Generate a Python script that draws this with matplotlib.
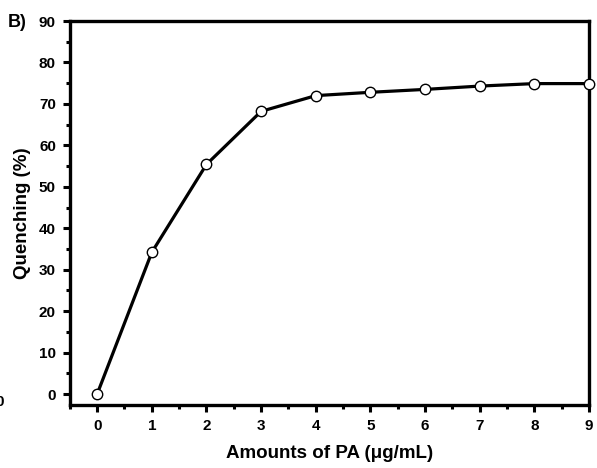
import matplotlib.pyplot as plt
from matplotlib.ticker import MultipleLocator

plt.rcParams['font.family'] = ['Liberation Sans', 'DejaVu Sans']
plt.rcParams['font.weight'] = 'bold'

amounts = [0, 1, 2, 3, 4, 5, 6, 7, 8, 9]
quenching = [0, 34.2, 55.4, 68.2, 72.0, 72.8, 73.5, 74.3, 74.9, 74.9]

fig = plt.figure(figsize=(5.97, 4.68), dpi=100)
ax = fig.add_axes([0.117, 0.1346, 0.8696, 0.8205])

ax.plot(amounts, quenching, color='black', linewidth=2.3, marker='o',
        markersize=7.5, markerfacecolor='white', markeredgecolor='black',
        markeredgewidth=1.0, clip_on=False, zorder=5)

ax.set_xlim(-0.5, 9)
ax.set_ylim(-2.65, 90)
ax.xaxis.set_major_locator(MultipleLocator(1))
ax.xaxis.set_minor_locator(MultipleLocator(0.5))
ax.yaxis.set_major_locator(MultipleLocator(10))
ax.yaxis.set_minor_locator(MultipleLocator(5))

for s in ax.spines.values():
    s.set_linewidth(2.4)
ax.tick_params(which='major', direction='out', length=5, width=2.2,
               labelsize=11, pad=5)
ax.tick_params(which='minor', direction='out', length=3, width=2.2)
for lab in ax.get_xticklabels() + ax.get_yticklabels():
    lab.set_fontweight('bold')

ax.set_xlabel('Amounts of PA (μg/mL)', fontsize=13.5, fontweight='bold', labelpad=9)
ax.set_ylabel('Quenching (%)', fontsize=13.5, fontweight='bold', labelpad=6)

fig.text(0.013, 0.952, 'B)', fontsize=13, fontweight='bold', va='center', ha='left')
fig.text(-0.008, 0.142, '0', fontsize=11, fontweight='bold', va='center', ha='left')

fig.savefig('out.png', dpi=100)
